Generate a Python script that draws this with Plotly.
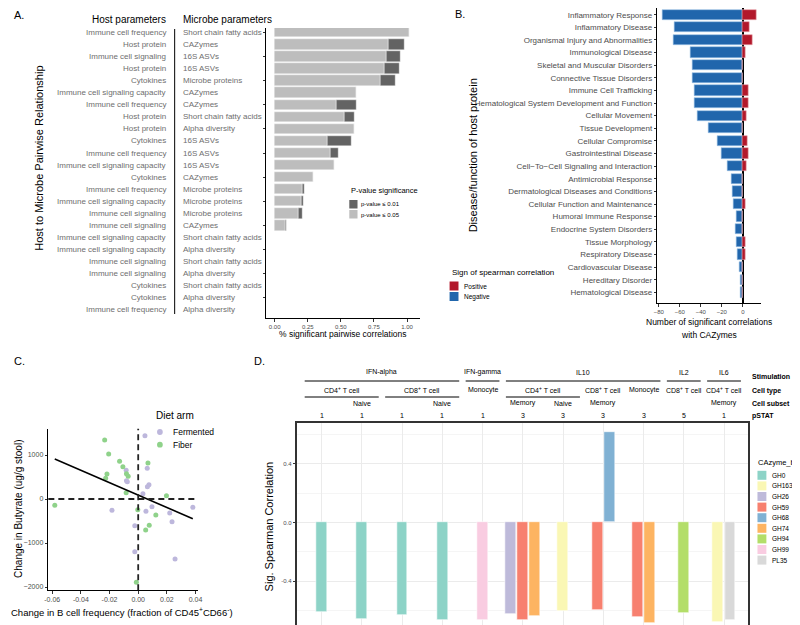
import plotly.graph_objects as go

W, H = 800, 625
def px(x): return x / W
def py(y): return 1 - y / H

FONT = "Liberation Sans, Arial, sans-serif"
GREY = "#4d4d4d"
LGREY = "#6e6e6e"

# ---------------- Panel A data ----------------
a_host = ["Immune cell frequency", "Host protein", "Immune cell signaling", "Host protein",
          "Cytokines", "Immune cell signaling capacity", "Immune cell frequency", "Host protein",
          "Host protein", "Cytokines", "Immune cell frequency", "Immune cell signaling capacity",
          "Cytokines", "Immune cell frequency", "Immune cell signaling capacity", "Immune cell signaling",
          "Immune cell signaling", "Immune cell signaling capacity", "Immune cell signaling capacity",
          "Immune cell signaling", "Immune cell signaling", "Cytokines", "Cytokines", "Immune cell frequency"]
a_microbe = ["Short chain fatty acids", "CAZymes", "16S ASVs", "16S ASVs", "Microbe proteins",
             "CAZymes", "CAZymes", "Short chain fatty acids", "Alpha diversity", "16S ASVs",
             "16S ASVs", "16S ASVs", "CAZymes", "Microbe proteins", "Microbe proteins",
             "Microbe proteins", "CAZymes", "Short chain fatty acids", "Alpha diversity",
             "Short chain fatty acids", "Alpha diversity", "Short chain fatty acids",
             "Alpha diversity", "Alpha diversity"]
a_p05 = [1.02, 0.858, 0.845, 0.833, 0.80, 0.616, 0.464, 0.529, 0.603, 0.397, 0.421, 0.451,
         0.294, 0.209, 0.200, 0.180, 0.080, 0, 0, 0, 0, 0, 0, 0]
a_p01 = [0, 0.125, 0.108, 0.110, 0.110, 0, 0.152, 0.074, 0, 0.182, 0.058, 0,
         0, 0.018, 0.017, 0.029, 0.010, 0, 0, 0, 0, 0, 0, 0]
a_ticks = [0, 0.25, 0.50, 0.75, 1.00]

# ---------------- Panel B data ----------------
b_terms = ["Inflammatory Response", "Inflammatory Disease", "Organismal Injury and Abnormalities",
           "Immunological Disease", "Skeletal and Muscular Disorders", "Connective Tissue Disorders",
           "Immune Cell Trafficking", "Hematological System Development and Function",
           "Cellular Movement", "Tissue Development", "Cellular Compromise",
           "Gastrointestinal Disease", "Cell\u2212To\u2212Cell Signaling and Interaction",
           "Antimicrobial Response", "Dermatological Diseases and Conditions",
           "Cellular Function and Maintenance", "Humoral Immune Response",
           "Endocrine System Disorders", "Tissue Morphology", "Respiratory Disease",
           "Cardiovascular Disease", "Hereditary Disorder", "Hematological Disease"]
b_negative = [-76, -65, -66, -50, -48, -48, -46, -46, -43, -33, -24, -20, -15,
              -11, -10, -9, -6, -7, -6, -5, -3, -2, -2]
b_positive = [13, 6, 9, 2, 0, 0, 5, 5, 3, 0, 4, 5, 3, 0, 0, 2, 0, 0, 2, 2, 0, 0, 0]
b_ticks = [-80, -60, -40, -20, 0]

# ---------------- Panel C data ----------------
c_ferm_x = [0.0047, -0.0084, -0.0082, -0.0076, 0.0063, 0.0075, 0.0064, 0.0033, -0.0183,
            0.0054, 0.0096, 0.0220, 0.0381, 0.0236, -0.0024, -0.0024, 0.0257]
c_ferm_y = [1439, 651, 417, 390, 697, 326, 280, 121, -257,
            -281, -174, -318, -190, -515, -606, -1197, -1364]
c_fiber_x = [-0.0234, -0.0206, -0.0130, -0.0107, -0.0082, -0.0070, -0.0218, -0.0227, -0.0084,
             0.0068, -0.0582, -0.0003, 0.0197, 0.0123, 0.0077, 0.0052, -0.0013]
c_fiber_y = [1341, 1023, 856, 735, 576, 515, 568, 470, 144,
             818, -144, -243, 76, -364, -598, -705, -1894]
c_fit_x = [-0.0582, 0.0381]
c_fit_y = [909, -448]
c_xticks = [-0.06, -0.04, -0.02, 0.00, 0.02, 0.04]
c_yticks = [-2000, -1000, 0, 1000]

# ---------------- Panel D data ----------------
d_bins = ["GH0", "GH163", "GH26", "GH59", "GH68", "GH74", "GH94", "GH99", "PL35"]
d_colors = ["#8DD3C7", "#FAF7B4", "#BEBADA", "#F7806F", "#80B1D3", "#FDB462", "#B3DE69", "#F9CCE1", "#D9D9D9"]
d_col = [1, 2, 3, 4, 5, 6, 6, 6, 7, 8, 8, 9, 9, 10, 11, 11]
d_bin = ["GH0", "GH0", "GH0", "GH0", "GH99", "GH26", "GH59", "GH74", "GH163", "GH59", "GH68",
         "GH59", "GH74", "GH94", "GH163", "PL35"]
d_val = [-0.61, -0.655, -0.633, -0.667, -0.667, -0.621, -0.662, -0.635, -0.605, -0.60, 0.614,
         -0.642, -0.687, -0.614, -0.676, -0.667]
d_stim = [("IFN-alpha", 1, 4), ("IFN-gamma", 5, 5), ("IL10", 6, 9), ("IL2", 10, 10), ("IL6", 11, 11)]
d_celltype = [("CD4<sup>+</sup> T cell", 1, 2), ("CD8<sup>+</sup> T cell", 3, 4), ("Monocyte", 5, 5),
              ("CD4<sup>+</sup> T cell", 6, 7), ("CD8<sup>+</sup> T cell", 8, 8), ("Monocyte", 9, 9),
              ("CD8<sup>+</sup> T cell", 10, 10), ("CD4<sup>+</sup> T cell", 11, 11)]
d_subset = ["", "Naive", "", "Naive", "", "Memory", "Naive", "Memory", "", "", "Memory"]
d_pstat = [1, 1, 1, 1, 1, 3, 3, 3, 3, 5, 1]
d_yticks = [-0.4, 0.0, 0.4]

fig = go.Figure()

# ---------- Panel A bars ----------
a_cats = [f"{h} | {m}" for h, m in zip(a_host, a_microbe)]
fig.add_trace(go.Bar(y=a_cats, x=a_p05, orientation="h", marker=dict(color="#bdbdbd", line=dict(color="white", width=0.4)),
                     width=0.86, xaxis="x", yaxis="y", showlegend=False, name="p-value \u2264 0.05"))
fig.add_trace(go.Bar(y=a_cats, x=a_p01, orientation="h", marker=dict(color="#636363", line=dict(color="white", width=0.4)),
                     width=0.86, xaxis="x", yaxis="y", showlegend=False, name="p-value \u2264 0.01"))

# ---------- Panel B bars ----------
fig.add_trace(go.Bar(y=b_terms, x=b_negative, orientation="h", marker=dict(color="#2166AC", line=dict(color="#9ec2e6", width=0.6)),
                     width=0.82, xaxis="x2", yaxis="y2", showlegend=False, name="Negative"))
fig.add_trace(go.Bar(y=b_terms, x=b_positive, orientation="h", marker=dict(color="#B2182B", line=dict(color="#e5a0a8", width=0.6)),
                     width=0.82, xaxis="x2", yaxis="y2", showlegend=False, name="Positive"))

# ---------- Panel C ----------
fig.add_trace(go.Scatter(x=c_ferm_x, y=c_ferm_y, mode="markers", marker=dict(color="#BDB7DC", size=5),
                         xaxis="x3", yaxis="y3", showlegend=False, name="Fermented"))
fig.add_trace(go.Scatter(x=c_fiber_x, y=c_fiber_y, mode="markers", marker=dict(color="#8FD28A", size=5),
                         xaxis="x3", yaxis="y3", showlegend=False, name="Fiber"))
fig.add_trace(go.Scatter(x=c_fit_x, y=c_fit_y, mode="lines", line=dict(color="black", width=1.6),
                         xaxis="x3", yaxis="y3", showlegend=False, hoverinfo="skip"))

# ---------- Panel D bars (dodged) ----------
dodge = 0.30
pos = []
for i, (c, b) in enumerate(zip(d_col, d_bin)):
    members = [j for j, cc in enumerate(d_col) if cc == c]
    k = members.index(i)
    n = len(members)
    pos.append(c + (k - (n - 1) / 2) * dodge)
for b, colr in zip(d_bins, d_colors):
    xs = [p for p, bb in zip(pos, d_bin) if bb == b]
    ys = [v for v, bb in zip(d_val, d_bin) if bb == b]
    fig.add_trace(go.Bar(x=xs, y=ys, width=0.27, marker=dict(color=colr, line=dict(color="white", width=0.6)),
                         xaxis="x4", yaxis="y4", showlegend=False, name=b))

ann = []
shapes = []

def text(x, y, s, size, color="black", xanchor="center", yanchor="middle", xref="paper", yref="paper", angle=0, bold=False):
    if bold:
        s = f"<b>{s}</b>"
    ann.append(dict(x=x, y=y, xref=xref, yref=yref, text=s, showarrow=False, xanchor=xanchor, yanchor=yanchor,
                    textangle=angle, font=dict(family=FONT, size=size, color=color)))

# Panel labels
text(px(7), py(7), "A.", 11)
text(px(453), py(6), "B.", 11)
text(px(8), py(353), "C.", 11)
text(px(250), py(353), "D.", 11)

# Panel A text table
text(px(157.5), py(12), "Host parameters", 10, xanchor="right")
text(px(171), py(12), "Microbe parameters", 10, xanchor="left")
for cat, h, m in zip(a_cats, a_host, a_microbe):
    text(px(157.5), cat, h, 8, color=LGREY, xanchor="right", yref="y")
    text(px(171), cat, m, 8, color=LGREY, xanchor="left", yref="y")
shapes.append(dict(type="line", xref="paper", yref="paper", x0=px(164.3), x1=px(164.3), y0=py(21), y1=py(306),
                   line=dict(color="black", width=1)))
text(px(27), py(150), "Host to Microbe Pairwise Relationship", 11, angle=-90)
text(px(334), py(325.5), "% significant pairwise correlations", 8.5)
# Panel A legend
text(px(340.5), py(183), "P-value significance", 7.5, xanchor="left")
shapes.append(dict(type="rect", xref="paper", yref="paper", x0=px(340.7), x1=px(349), y0=py(192), y1=py(200.5),
                   fillcolor="#636363", line=dict(width=0)))
shapes.append(dict(type="rect", xref="paper", yref="paper", x0=px(340.7), x1=px(349), y0=py(202), y1=py(210.5),
                   fillcolor="#bdbdbd", line=dict(width=0)))
text(px(351), py(196), "p-value \u2264 0.01", 6, xanchor="left")
text(px(351), py(206.5), "p-value \u2264 0.05", 6, xanchor="left")

# Panel B
text(px(466), py(147), "Disease/function of host protein", 11, angle=-90)
text(px(704), py(314), "Number of significant correlations", 8.5)
text(px(704), py(327), "with CAZymes", 8.5)
text(px(442), py(264), "Sign of spearman correlation", 8, xanchor="left")
shapes.append(dict(type="rect", xref="paper", yref="paper", x0=px(442), x1=px(451), y0=py(273.5), y1=py(282.5),
                   fillcolor="#B2182B", line=dict(width=0)))
shapes.append(dict(type="rect", xref="paper", yref="paper", x0=px(442), x1=px(451), y0=py(284), y1=py(293),
                   fillcolor="#2166AC", line=dict(width=0)))
text(px(455), py(278.5), "Positive", 6.5, xanchor="left")
text(px(455), py(289), "Negative", 6.5, xanchor="left")

# Panel C
shapes.append(dict(type="line", xref="x3", yref="y3 domain", x0=0, x1=0, y0=0, y1=1,
                   line=dict(color="#222", width=1.8, dash="6px,4px")))
shapes.append(dict(type="line", xref="x3 domain", yref="y3", x0=0, x1=0.98, y0=0, y1=0,
                   line=dict(color="#222", width=1.8, dash="6px,4px")))
text(px(6), py(501), "Change in Butyrate (ug/g stool)", 10, angle=-90)
text(px(111), py(604), "Change in B cell frequency (fraction of CD45<sup>+</sup>CD66<sup>-</sup>)", 9.5)
text(px(143), py(407), "Diet arm", 10, xanchor="left")
text(px(160.5), py(424), "Fermented", 8.5, xanchor="left")
text(px(160.5), py(437), "Fiber", 8.5, xanchor="left")
shapes.append(dict(type="circle", xref="paper", yref="paper", x0=px(146.5), x1=px(152.3), y0=py(421.1), y1=py(426.9),
                   fillcolor="#BDB7DC", line=dict(width=0)))
shapes.append(dict(type="circle", xref="paper", yref="paper", x0=px(146.5), x1=px(152.3), y0=py(433.8), y1=py(439.6),
                   fillcolor="#8FD28A", line=dict(width=0)))

# Panel D header
hdr_y = {"stim": 364, "stim_line": 373, "cell": 382, "cell_line": 389, "subset": 395, "pstat": 407}
for name, a, b in d_stim:
    text((a + b) / 2, py(hdr_y["stim"]), name, 7, xref="x4")
    shapes.append(dict(type="line", xref="x4", yref="paper", x0=a - 0.42, x1=b + 0.42,
                       y0=py(hdr_y["stim_line"]), y1=py(hdr_y["stim_line"]), line=dict(color="black", width=1)))
for name, a, b in d_celltype:
    text((a + b) / 2, py(hdr_y["cell"]), name, 7, xref="x4")
    if b > a:
        shapes.append(dict(type="line", xref="x4", yref="paper", x0=a - 0.42, x1=b + 0.42,
                           y0=py(hdr_y["cell_line"]), y1=py(hdr_y["cell_line"]), line=dict(color="black", width=1)))
for i, s in enumerate(d_subset):
    if s:
        text(i + 1, py(hdr_y["subset"]), s, 7, xref="x4")
for i, s in enumerate(d_pstat):
    text(i + 1, py(hdr_y["pstat"]), str(s), 7, xref="x4")
text(px(745), py(hdr_y["stim"] + 4), "Stimulation", 7, xanchor="left", bold=True)
text(px(745), py(hdr_y["cell"] + 1), "Cell type", 7, xanchor="left", bold=True)
text(px(745), py(hdr_y["subset"]), "Cell subset", 7, xanchor="left", bold=True)
text(px(745), py(hdr_y["pstat"] + 1), "pSTAT", 7, xanchor="left", bold=True)
text(px(260), py(518), "Sig. Spearman Correlation", 11, angle=-90)
# Panel D legend
text(px(752), py(454), "CAzyme_bin", 7.5, xanchor="left")
for i, (b, colr) in enumerate(zip(d_bins, d_colors)):
    yc = 467.3 + i * 10.6
    shapes.append(dict(type="rect", xref="paper", yref="paper", x0=px(753), x1=px(762), y0=py(yc - 4.5), y1=py(yc + 4.5),
                       fillcolor=colr, line=dict(width=0)))
    text(px(766), py(yc), b, 6.5, xanchor="left")

tickfont = dict(family=FONT, size=6, color=GREY)
axline = dict(showline=True, linecolor="black", linewidth=1.3, ticks="outside", ticklen=2.5, tickcolor="#333",
              showgrid=False, zeroline=False)

fig.update_layout(
    width=W, height=H, margin=dict(l=0, r=0, t=0, b=0),
    paper_bgcolor="white", plot_bgcolor="white",
    barmode="relative", bargap=0, showlegend=False,
    font=dict(family=FONT),
    xaxis=dict(domain=[px(257), px(411.7)], anchor="y", range=[-0.062, 1.095], tickvals=a_ticks,
               ticktext=[f"{t:.2f}" for t in a_ticks], tickfont=tickfont, **axline),
    yaxis=dict(domain=[py(310), py(20)], anchor="x", type="category", categoryorder="array", categoryarray=a_cats,
               range=[23.67, -0.356], showticklabels=False, **axline),
    xaxis2=dict(domain=[px(652), px(757)], anchor="y2", range=[-81.2, 17.6], tickvals=b_ticks,
                tickfont=tickfont, showline=True, linecolor="black", linewidth=1.3, ticks="outside", ticklen=2.5,
                tickcolor="#333", showgrid=False, zeroline=True, zerolinecolor="black", zerolinewidth=2.2),
    yaxis2=dict(domain=[py(295), py(0)], anchor="x2", type="category", categoryorder="array", categoryarray=b_terms,
                range=[22.84, -0.53], tickfont=dict(family=FONT, size=8, color=GREY), **axline),
    xaxis3=dict(domain=[px(36.7), px(188)], anchor="y3", range=[-0.0627, 0.0418], tickvals=c_xticks,
                ticktext=[f"{t:.2f}" for t in c_xticks], tickfont=dict(family=FONT, size=7, color=GREY), **axline),
    yaxis3=dict(domain=[py(582.3), py(420.7)], anchor="x3", range=[-2075, 1598], tickvals=c_yticks,
                tickfont=dict(family=FONT, size=7, color=GREY), **axline),
    xaxis4=dict(domain=[px(288), px(743.6)], anchor="y4", range=[0.392, 11.6], tickvals=list(range(1, 12)),
                showticklabels=False, ticks="", showgrid=True, gridcolor="#ebebeb", gridwidth=1,
                showline=True, linecolor="#333", linewidth=1.6, mirror=True, zeroline=False),
    yaxis4=dict(domain=[py(623), py(415)], anchor="x4", range=[-0.74, 0.678], tickvals=d_yticks,
                ticktext=[f"{t:.1f}" for t in d_yticks], tickfont=tickfont, ticks="outside", ticklen=2.5,
                tickcolor="#333", showgrid=True, gridcolor="#ebebeb", gridwidth=1,
                minor=dict(tickvals=[-0.6, -0.2, 0.2, 0.6], showgrid=True, gridcolor="#f5f5f5", ticks=""),
                showline=True, linecolor="#333", linewidth=1.6, mirror=True, zeroline=False),
    annotations=ann, shapes=shapes,
)

fig.write_html("out.html")
